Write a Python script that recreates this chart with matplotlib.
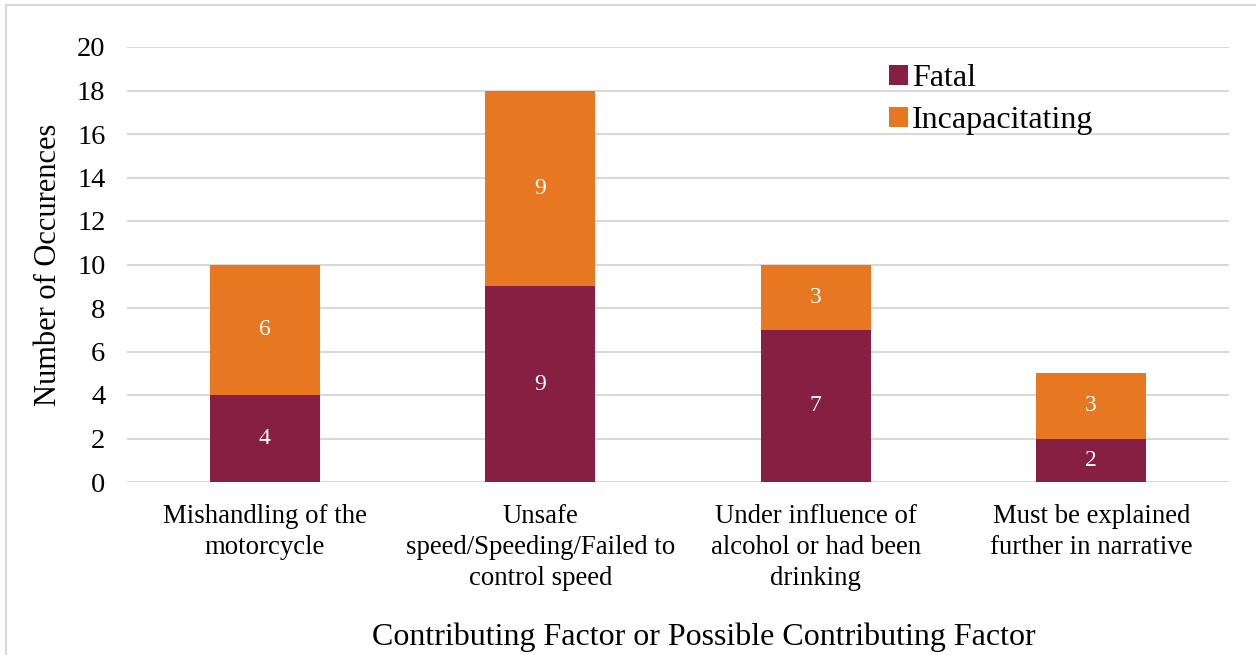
import matplotlib
matplotlib.use("Agg")
import matplotlib.pyplot as plt
from matplotlib.patches import Rectangle

categories = ["Mishandling of the\nmotorcycle",
              "Unsafe\nspeed/Speeding/Failed to\ncontrol speed",
              "Under influence of\nalcohol or had been\ndrinking",
              "Must be explained\nfurther in narrative"]
fatal = [4, 9, 7, 2]
incap = [6, 9, 3, 3]
yticks = [0, 2, 4, 6, 8, 10, 12, 14, 16, 18, 20]

plt.rcParams['font.family'] = ['Liberation Serif', 'DejaVu Serif']

c_fatal = "#861F41"
c_incap = "#E87722"

fig = plt.figure(figsize=(12.56, 6.55), dpi=100)
ax = fig.add_axes([127/1256, 173/655, 1102/1256, 435/655])

x = list(range(len(categories)))
ax.bar(x, fatal, width=0.4, color=c_fatal, label="Fatal", zorder=3)
ax.bar(x, incap, width=0.4, bottom=fatal, color=c_incap, label="Incapacitating", zorder=3)

for i in x:
    ax.text(i, fatal[i] / 2, str(fatal[i]), ha="center", va="center", color="white", fontsize=17, zorder=4)
    ax.text(i, fatal[i] + incap[i] / 2, str(incap[i]), ha="center", va="center", color="white", fontsize=17, zorder=4)

ax.set_xlim(-0.5, 3.5)
ax.set_ylim(0, 20)
ax.set_yticks(yticks)
ax.set_yticklabels([str(t) for t in yticks], fontsize=20.5)
ax.set_xticks(x)
ax.set_xticklabels(categories, fontsize=19.3, linespacing=1.3, va="top")
ax.tick_params(axis="both", length=0)
ax.tick_params(axis="x", pad=16)
ax.tick_params(axis="y", pad=15.5)
ax.yaxis.grid(True, color="#d9d9d9", linewidth=1.5, zorder=0)
ax.set_axisbelow(True)
for s in ax.spines.values():
    s.set_visible(False)

ax.set_ylabel("Number of Occurences", fontsize=22, labelpad=10)
fig.text(704/1256, 1 - 637/655, "Contributing Factor or Possible Contributing Factor",
         ha="center", va="center", fontsize=23)

leg = ax.legend(loc="upper left", bbox_to_anchor=(0.680, 0.99), frameon=False,
                fontsize=23, handlelength=0.6, handleheight=0.6, handletextpad=0.12,
                labelspacing=0.4, borderaxespad=0)

# outer frame (only top and left visible in the reference crop)
fig.add_artist(Rectangle((6/1256, -0.1), 1.2, (1 - 5/655) + 0.1, transform=fig.transFigure,
                         fill=False, edgecolor="#d9d9d9", linewidth=1.5))

fig.savefig("out.png", dpi=100)
